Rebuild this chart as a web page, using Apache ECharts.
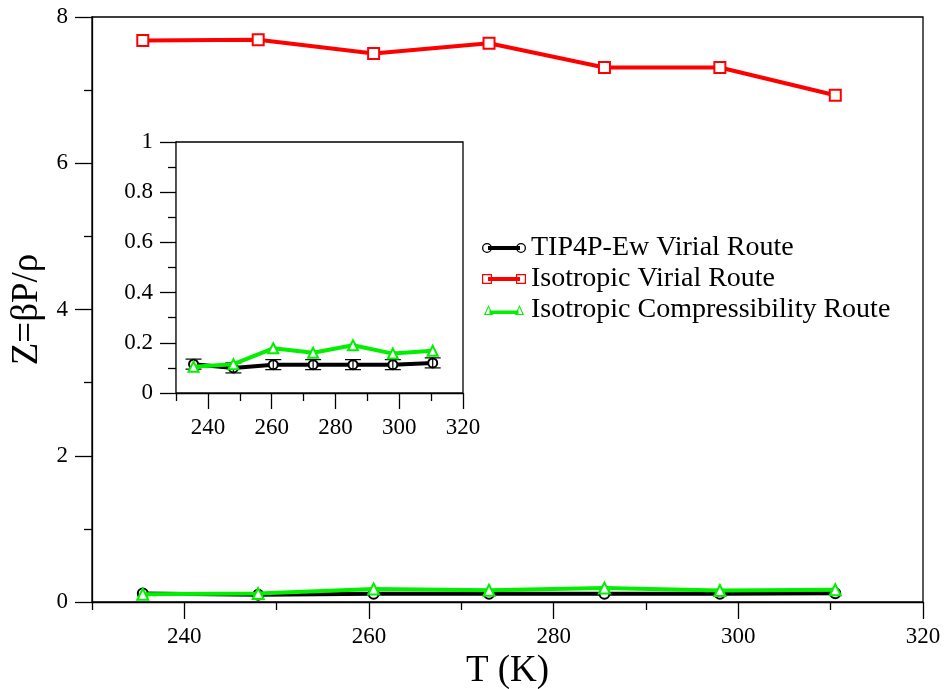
<!DOCTYPE html>
<html>
<head>
<meta charset="utf-8">
<script src="https://cdn.jsdelivr.net/npm/echarts@6/dist/echarts.min.js"></script>
<style>
html,body{margin:0;padding:0;background:#fff;}
#chart{width:946px;height:689px;}
</style>
</head>
<body>
<div id="chart"></div>
<script>
// ---- data ----
var temps = [235.5, 248, 260.5, 273, 285.5, 298, 310.5];
var tip4pVirial = [0.115, 0.100, 0.113, 0.113, 0.113, 0.113, 0.120];
var tip4pErr = [0.02, 0.02, 0.02, 0.02, 0.02, 0.02, 0.02];
var isoVirial = [7.68, 7.69, 7.50, 7.64, 7.31, 7.31, 6.93];
var isoCompress = [0.105, 0.115, 0.178, 0.160, 0.190, 0.157, 0.168];
var seriesNames = ['TIP4P-Ew Virial Route', 'Isotropic Virial Route', 'Isotropic Compressibility Route'];
var xMajorTicks = [240, 260, 280, 300, 320];
var xMinorTicks = [230, 250, 270, 290, 310];
var mainYTicks = [0, 2, 4, 6, 8];
var insetYTicks = [0, 0.2, 0.4, 0.6, 0.8, 1];

function pairs(xs, ys) { return xs.map(function (x, i) { return [x, ys[i]]; }); }

var FONT = 'Liberation Serif';
var BLACK = '#000000', RED = '#ff0000', GREEN = '#00f000';

var chart = echarts.init(document.getElementById('chart'), null, {renderer: 'canvas'});

var axisLineStyle = {color: '#000', width: 1.3};

function xAxisMajor(grid, name) {
  return {
    type: 'value', gridIndex: grid, min: 230, max: 320, position: 'bottom',
    name: name || '', nameLocation: 'middle', nameGap: 42,
    nameTextStyle: {color: '#000', fontFamily: FONT, fontSize: 37},
    axisLine: {show: true, onZero: false, lineStyle: axisLineStyle},
    axisTick: {show: true, inside: false, length: grid === 0 ? 17 : 16, customValues: xMajorTicks, lineStyle: axisLineStyle},
    axisLabel: {show: true, margin: 23, customValues: xMajorTicks, color: '#000', fontFamily: FONT, fontSize: 23},
    splitLine: {show: false}
  };
}
function xAxisMinor(grid) {
  return {
    type: 'value', gridIndex: grid, min: 230, max: 320, position: 'bottom',
    axisLine: {show: false},
    axisTick: {show: true, inside: false, length: 8, customValues: xMinorTicks, lineStyle: axisLineStyle},
    axisLabel: {show: false},
    splitLine: {show: false}
  };
}

var option = {
  backgroundColor: '#fff',
  animation: false,
  grid: [
    {left: 92, top: 17, right: 23, bottom: 87, show: true, borderColor: '#000', borderWidth: 1.3, backgroundColor: 'transparent', containLabel: false, outerBoundsMode: 'none'},
    {left: 176, top: 142, width: 287, height: 251, show: true, borderColor: '#000', borderWidth: 1.3, backgroundColor: '#fff', containLabel: false, outerBoundsMode: 'none', z: 5}
  ],
  legend: {
    orient: 'vertical', left: 477, top: 229, itemGap: 3, itemWidth: 44, itemHeight: 10,
    textStyle: {color: '#000', fontFamily: FONT, fontSize: 28, lineHeight: 28},
    itemStyle: {borderWidth: 0},
    selectedMode: false,
    data: [
      {name: seriesNames[0], icon: 'path://M6 4H38V8H6Z M0 6A5 5 0 1 1 10 6A5 5 0 1 1 0 6Z M1.3 6A3.7 3.7 0 1 0 8.7 6A3.7 3.7 0 1 0 1.3 6Z M34 6A5 5 0 1 1 44 6A5 5 0 1 1 34 6Z M35.3 6A3.7 3.7 0 1 0 42.7 6A3.7 3.7 0 1 0 35.3 6Z'},
      {name: seriesNames[1], icon: 'path://M6 4H38V8H6Z M0 1H10V11H0Z M1.2 2.2V9.8H8.8V2.2Z M34 1H44V11H34Z M35.2 2.2V9.8H42.8V2.2Z'},
      {name: seriesNames[2], icon: 'path://M6 6H38V10H6Z M5 0L10 11H0Z M5 2.6L1.9 9.8H8.1Z M39 0L44 11H34Z M39 2.6L35.9 9.8H42.1Z'}
    ]
  },
  xAxis: [xAxisMajor(0, 'T (K)'), xAxisMinor(0), xAxisMajor(1), xAxisMinor(1)],
  yAxis: [
    {
      type: 'value', gridIndex: 0, min: 0, max: 8, interval: 2,
      name: 'Z=βP/ρ', nameLocation: 'middle', nameGap: 45,
      nameTextStyle: {color: '#000', fontFamily: FONT, fontSize: 37},
      axisLine: {show: true, lineStyle: axisLineStyle},
      axisTick: {show: true, inside: false, length: 17, lineStyle: axisLineStyle},
      minorTick: {show: true, splitNumber: 2, length: 8, lineStyle: {color: '#000', width: 1.3}},
      axisLabel: {margin: 24, color: '#000', fontFamily: FONT, fontSize: 23},
      splitLine: {show: false}, minorSplitLine: {show: false}
    },
    {
      type: 'value', gridIndex: 1, min: 0, max: 1, interval: 0.2,
      axisLine: {show: true, lineStyle: axisLineStyle},
      axisTick: {show: true, inside: false, length: 16, lineStyle: axisLineStyle},
      minorTick: {show: true, splitNumber: 2, length: 8, lineStyle: {color: '#000', width: 1.3}},
      axisLabel: {margin: 23, color: '#000', fontFamily: FONT, fontSize: 23},
      splitLine: {show: false}, minorSplitLine: {show: false}
    }
  ],
  series: [
    {
      name: seriesNames[0], type: 'line', xAxisIndex: 0, yAxisIndex: 0,
      data: pairs(temps, tip4pVirial), symbol: 'emptyCircle', symbolSize: 10,
      lineStyle: {color: BLACK, width: 4}, itemStyle: {color: BLACK, borderWidth: 1.2}, z: 2
    },
    {
      name: seriesNames[1], type: 'line', xAxisIndex: 0, yAxisIndex: 0,
      data: pairs(temps, isoVirial), symbol: 'emptyRect', symbolSize: 11,
      lineStyle: {color: RED, width: 4}, itemStyle: {color: RED, borderWidth: 1.2}, z: 3
    },
    {
      name: seriesNames[2], type: 'line', xAxisIndex: 0, yAxisIndex: 0,
      data: pairs(temps, isoCompress), symbol: 'emptyTriangle', symbolSize: 11,
      lineStyle: {color: GREEN, width: 4}, itemStyle: {color: GREEN, borderWidth: 1.2}, z: 4
    },
    {
      name: seriesNames[0], type: 'line', xAxisIndex: 2, yAxisIndex: 1,
      data: pairs(temps, tip4pVirial), symbol: 'emptyCircle', symbolSize: 9,
      lineStyle: {color: BLACK, width: 4}, itemStyle: {color: BLACK, borderWidth: 1.2}, z: 6
    },
    {
      name: seriesNames[0] + ' error', type: 'custom', xAxisIndex: 2, yAxisIndex: 1, z: 7,
      data: temps.map(function (t, i) { return [t, tip4pVirial[i], tip4pErr[i]]; }),
      renderItem: function (params, api) {
        var x = api.value(0), y = api.value(1), e = api.value(2);
        var lo = api.coord([x, y - e]);
        var hi = api.coord([x, y + e]);
        var hw = 8;
        var st = {stroke: '#000', lineWidth: 1.2};
        return {
          type: 'group',
          children: [
            {type: 'line', shape: {x1: lo[0], y1: lo[1], x2: hi[0], y2: hi[1]}, style: st},
            {type: 'line', shape: {x1: lo[0] - hw, y1: lo[1], x2: lo[0] + hw, y2: lo[1]}, style: st},
            {type: 'line', shape: {x1: hi[0] - hw, y1: hi[1], x2: hi[0] + hw, y2: hi[1]}, style: st}
          ]
        };
      }
    },
    {
      name: seriesNames[2], type: 'line', xAxisIndex: 2, yAxisIndex: 1,
      data: pairs(temps, isoCompress), symbol: 'emptyTriangle', symbolSize: 10,
      lineStyle: {color: GREEN, width: 4}, itemStyle: {color: GREEN, borderWidth: 1.2}, z: 8
    }
  ]
};
chart.setOption(option);
</script>
</body>
</html>
